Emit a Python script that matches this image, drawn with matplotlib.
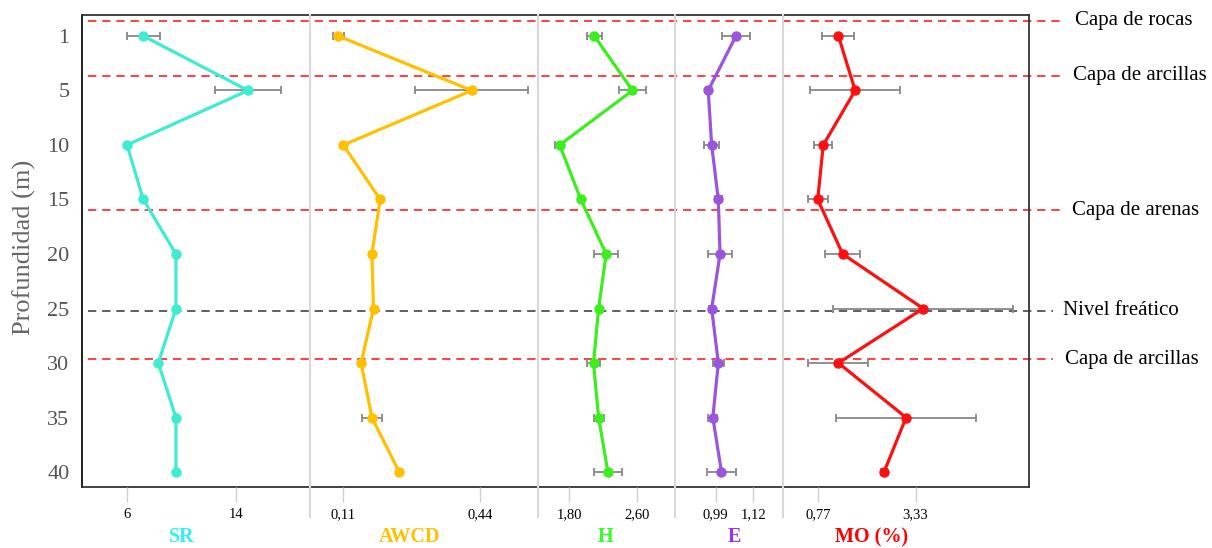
import matplotlib
matplotlib.use("Agg")
import matplotlib.pyplot as plt
from matplotlib.lines import Line2D

plt.rcParams['font.family'] = ['Liberation Serif', 'DejaVu Serif']

# ---- datos ----
depth_labels = ['1', '5', '10', '15', '20', '25', '30', '35', '40']

sr = [7.2, 14.9, 6.0, 7.2, 9.6, 9.6, 8.3, 9.6, 9.6]
sr_err = [1.2, 2.45, 0, 0, 0, 0, 0, 0, 0]

awcd = [0.098, 0.42, 0.11, 0.199, 0.179, 0.183, 0.153, 0.179, 0.245]
awcd_err = [0.013, 0.136, 0, 0, 0, 0, 0, 0.024, 0]

h = [2.10, 2.55, 1.69, 1.94, 2.24, 2.15, 2.09, 2.15, 2.26]
h_err = [0.085, 0.16, 0.05, 0.02, 0.145, 0.02, 0.08, 0.06, 0.165]

e = [1.06, 0.964, 0.976, 0.999, 1.005, 0.976, 0.999, 0.98, 1.01]
e_err = [0.047, 0.008, 0.025, 0.012, 0.042, 0.008, 0.02, 0.015, 0.05]

mo = [1.30, 1.74, 0.90, 0.755, 1.41, 3.53, 1.30, 3.08, 2.50]
mo_err = [0.42, 1.18, 0.24, 0.26, 0.47, 2.36, 0.79, 1.85, 0.08]

# capas (posicion en unidades del eje de profundidad)
layer_names = ['Capa de rocas', 'Capa de arcillas', 'Capa de arenas',
               'Nivel freático', 'Capa de arcillas']
layer_pos = [-0.28, 0.73, 3.2, 5.04, 5.93]
layer_colors = ['#ff2020', '#ff2020', '#ff2020', '#444444', '#ff2020']

# ---- paneles: nombre, valores, error, ticks, color linea, color titulo ----
panels = [
    ('SR', sr, sr_err, [6, 14], ['6', '14'], '#3feccf', '#2ef2ee'),
    ('AWCD', awcd, awcd_err, [0.11, 0.44], ['0,11', '0,44'], '#ffc000', '#ffc000'),
    ('H', h, h_err, [1.80, 2.60], ['1,80', '2,60'], '#3cee1e', '#33ff22'),
    ('E', e, e_err, [0.99, 1.12], ['0,99', '1,12'], '#9a55dd', '#9a33ee'),
    ('MO (%)', mo, mo_err, [0.77, 3.33], ['0,77', '3,33'], '#ff1010', '#ff0000'),
]

# ---- geometria (pixeles) ----
W, H = 1212, 548
def fx(px): return px / W
def fy(py): return 1 - py / H

left, right, top, bottom = 82, 1029, 15, 487
edges = [82, 310, 538, 675, 783, 1029]
xlims = [(2.69, 19.46), (0.0296, 0.580), (1.434, 3.053), (0.849, 1.223), (-0.159, 6.315)]
title_x = [182, 410, 606, 734, 872]
ylim = (8.275, -0.385)

fig = plt.figure(figsize=(W / 100, H / 100), dpi=100)

frame = fig.add_axes([fx(left), fy(bottom), fx(right) - fx(left), fy(top) - fy(bottom)])
frame.set_xlim(0, 1)
frame.set_ylim(*ylim)
frame.set_xticks([])
frame.set_yticks(range(len(depth_labels)))
frame.set_yticklabels(depth_labels, fontsize=16, color='#555555')
frame.tick_params(axis='y', length=0, pad=9)
for sp in frame.spines.values():
    sp.set_color('#333333')
    sp.set_linewidth(1.3)
frame.spines['left'].set_color('#111111')

fig.text(fx(24), fy(247), 'Profundidad (m)', rotation=90, ha='center', va='center',
         fontsize=19, color='#666666')

# separadores
for xe in edges[1:-1]:
    fig.add_artist(Line2D([fx(xe), fx(xe)], [fy(top), fy(517)], color='#d8d8d8', lw=1.5))

# lineas de capas
ytr = frame.get_yaxis_transform()
line_end = [1.038, 1.035, 1.035, 1.0255, 1.0255]
text_x = [1.0485, 1.046, 1.045, 1.0355, 1.0385]
for name, pos, col, xe, xt in zip(layer_names, layer_pos, layer_colors, line_end, text_x):
    frame.plot([0.006, xe], [pos, pos], transform=ytr, color=col, lw=1.2,
               ls=(0, (5, 3.5)), clip_on=False, zorder=1)
    frame.text(xt, pos, name, transform=ytr, ha='left', va='center',
               fontsize=15, color='black')

# paneles
for i, (name, vals, err, ticks, tlabels, lcol, tcol) in enumerate(panels):
    l, r = edges[i], edges[i + 1]
    ax = fig.add_axes([fx(l), fy(bottom), fx(r) - fx(l), fy(top) - fy(bottom)])
    ax.patch.set_visible(False)
    for sp in ax.spines.values():
        sp.set_visible(False)
    ax.set_xlim(*xlims[i])
    ax.set_ylim(*ylim)
    ax.set_yticks([])
    ax.set_xticks(ticks)
    ax.set_xticklabels(tlabels, fontsize=10.5, color='black')
    ax.tick_params(axis='x', direction='out', length=11, width=1, color='#d0d0d0', pad=4)
    ax.errorbar(vals, range(len(vals)), xerr=err, fmt='-o', color=lcol, lw=2.3,
                ms=6.5, ecolor='#888888', elinewidth=1.3, capsize=3, capthick=1.3,
                zorder=3)
    fig.text(fx(title_x[i]), fy(537), name, ha='center', va='center', fontsize=14.5,
             fontweight='bold', color=tcol)

fig.savefig('out.png', dpi=100)
